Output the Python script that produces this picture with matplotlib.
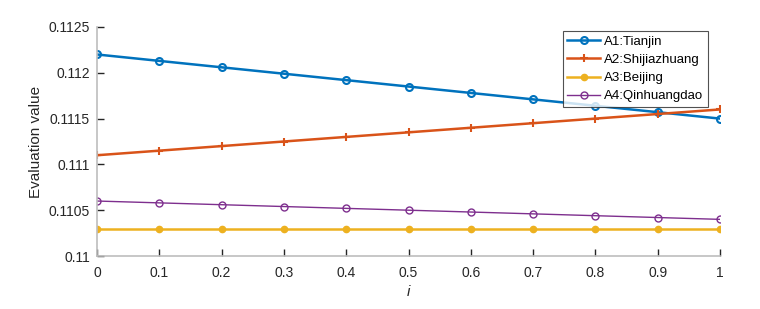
import matplotlib
matplotlib.use("Agg")
import matplotlib.pyplot as plt
import numpy as np

plt.rcParams['font.family'] = ['Liberation Sans', 'DejaVu Sans']

i_vals = [0, 0.1, 0.2, 0.3, 0.4, 0.5, 0.6, 0.7, 0.8, 0.9, 1.0]
tianjin = [0.11220, 0.11213, 0.11206, 0.11199, 0.11192, 0.11185, 0.11178, 0.11171, 0.11164, 0.11157, 0.11150]
shijiazhuang = [0.11110, 0.11115, 0.11120, 0.11125, 0.11130, 0.11135, 0.11140, 0.11145, 0.11150, 0.11155, 0.11160]
beijing = [0.11030] * 11
qinhuangdao = [0.11060, 0.11058, 0.11056, 0.11054, 0.11052, 0.11050, 0.11048, 0.11046, 0.11044, 0.11042, 0.11040]

labels = ['A1:Tianjin', 'A2:Shijiazhuang', 'A3:Beijing', 'A4:Qinhuangdao']
xticks = [0, 0.1, 0.2, 0.3, 0.4, 0.5, 0.6, 0.7, 0.8, 0.9, 1]
yticks = [0.11, 0.1105, 0.111, 0.1115, 0.112, 0.1125]
ytick_labels = ['0.11', '0.1105', '0.111', '0.1115', '0.112', '0.1125']

fig = plt.figure(figsize=(7.6, 3.09), dpi=100)
ax = fig.add_axes([97/760, 53/309, 623/760, 229/309])

ax.plot(i_vals, tianjin, color='#0072BD', lw=1.8, marker='o', ms=5, mfc='none', mew=1.5, label=labels[0])
ax.plot(i_vals, shijiazhuang, color='#D95319', lw=1.8, marker='+', ms=6, mew=1.5, label=labels[1])
ax.plot(i_vals, beijing, color='#EDB120', lw=1.8, marker='o', ms=4.5, mfc='#EDB120', mew=1, label=labels[2])
ax.plot(i_vals, qinhuangdao, color='#7E2F8E', lw=1.0, marker='o', ms=5, mfc='none', mew=1.0, label=labels[3])

ax.set_xlim(0, 1)
ax.set_ylim(0.11, 0.1125)
ax.set_xticks(xticks)
ax.set_xticklabels([f'{t:g}' for t in xticks])
ax.set_yticks(yticks)
ax.set_yticklabels(ytick_labels)

for s in ['top', 'right']:
    ax.spines[s].set_visible(False)
for s in ['left', 'bottom']:
    ax.spines[s].set_color('#bdbdbd')
    ax.spines[s].set_linewidth(1.2)

ax.tick_params(direction='in', length=5, width=1, color='#262626', labelsize=10, labelcolor='#262626')
ax.tick_params(axis='x', pad=7)
ax.tick_params(axis='y', pad=5)

ax.set_xlabel('i', fontstyle='italic', fontsize=11, color='#262626', labelpad=4)
ax.set_ylabel('Evaluation value', fontsize=11, color='#262626', labelpad=4)

leg = ax.legend(loc='upper right', bbox_to_anchor=(1 - 12/623, 1 - 4/229), fontsize=9.5, frameon=True, fancybox=False,
                edgecolor='#262626', handlelength=2.5, handletextpad=0.3, borderpad=0.35, labelspacing=0.45,
                borderaxespad=0)
leg.get_frame().set_linewidth(0.8)

fig.savefig('out.png', dpi=100)
